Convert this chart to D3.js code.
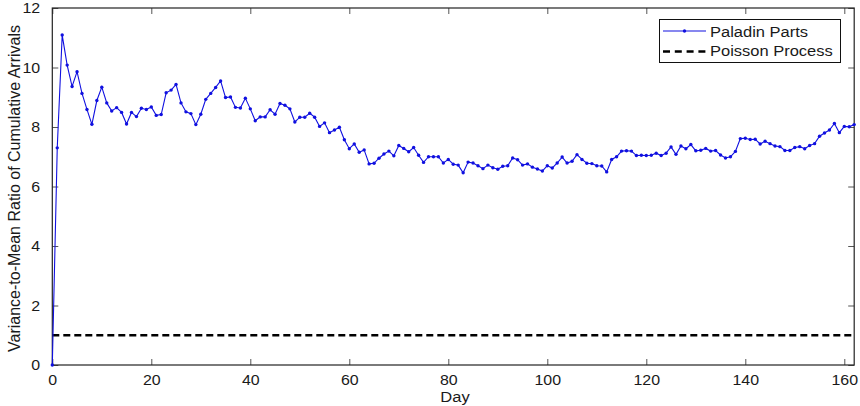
<!DOCTYPE html>
<html>
<head>
<meta charset="utf-8">
<script src="https://cdn.jsdelivr.net/npm/d3@7"></script>
<style>
  html, body { margin: 0; padding: 0; background: #fff; }
  svg text { font-family: Arial, "Liberation Sans", sans-serif; fill: #1a1a1a; }
</style>
</head>
<body>
<svg id="chart" width="860" height="406"></svg>
<script>
// Variance-to-mean ratio per day (day 0 .. 162)
const days = d3.range(0, 163);
const paladinParts = [
  0.00, 7.30, 11.09, 10.08, 9.36, 9.86, 9.13, 8.59, 8.09, 8.89,
  9.34, 8.81, 8.54, 8.65, 8.49, 8.10, 8.49, 8.35, 8.63, 8.59,
  8.67, 8.39, 8.42, 9.15, 9.24, 9.43, 8.81, 8.51, 8.45, 8.08,
  8.43, 8.93, 9.13, 9.33, 9.55, 8.99, 9.01, 8.66, 8.64, 8.97,
  8.61, 8.21, 8.34, 8.34, 8.58, 8.43, 8.79, 8.73, 8.61, 8.17,
  8.33, 8.33, 8.46, 8.33, 8.02, 8.14, 7.81, 7.90, 7.99, 7.57,
  7.27, 7.43, 7.15, 7.23, 6.76, 6.78, 6.95, 7.09, 7.19, 7.03,
  7.38, 7.28, 7.17, 7.31, 7.05, 6.81, 7.00, 7.00, 7.00, 6.79,
  6.91, 6.75, 6.72, 6.46, 6.82, 6.79, 6.70, 6.60, 6.72, 6.63,
  6.58, 6.68, 6.70, 6.96, 6.90, 6.72, 6.76, 6.65, 6.59, 6.52,
  6.70, 6.62, 6.79, 6.99, 6.79, 6.85, 7.07, 6.91, 6.78, 6.77,
  6.70, 6.69, 6.49, 6.91, 7.00, 7.19, 7.20, 7.19, 7.04, 7.05,
  7.04, 7.05, 7.12, 7.04, 7.12, 7.33, 7.08, 7.36, 7.27, 7.41,
  7.20, 7.22, 7.28, 7.19, 7.21, 7.06, 6.96, 7.00, 7.18, 7.61,
  7.62, 7.58, 7.59, 7.43, 7.52, 7.44, 7.36, 7.34, 7.21, 7.21,
  7.31, 7.34, 7.27, 7.38, 7.44, 7.69, 7.80, 7.90, 8.12, 7.81,
  8.02, 8.01, 8.08
];
const poissonValue = 1;
const xTicks = [0, 20, 40, 60, 80, 100, 120, 140, 160];
const yTicks = [0, 2, 4, 6, 8, 10, 12];
const xDomain = [0, 162];
const yDomain = [0, 12];
const legendLabels = ["Paladin Parts", "Poisson Process"];
const xLabel = "Day";
const yLabel = "Variance-to-Mean Ratio of Cumulative Arrivals";

const svg = d3.select("#chart");
const L = 52.3, R = 854.2, T = 8, B = 365;
const x = d3.scaleLinear().domain(xDomain).range([L, R]);
const y = d3.scaleLinear().domain(yDomain).range([B, T]);
const blue = "#1010e0";
const SX = 1.1;

// axes (MATLAB style box with inward ticks)
const tickLen = 6;
function styleAxis(g) {
  g.select(".domain").remove();
  g.selectAll(".tick line").attr("stroke", "#555").attr("stroke-width", 1);
  g.selectAll(".tick text").attr("font-size", 14.5).attr("fill", "#1a1a1a");
}
const gx = svg.append("g").attr("transform", `translate(0,${B})`)
  .call(d3.axisBottom(x).tickValues(xTicks).tickSizeInner(-tickLen).tickSizeOuter(0).tickPadding(10));
styleAxis(gx);
gx.selectAll(".tick text").attr("dy", "0.71em").attr("transform", `scale(${SX},1)`);

const gxTop = svg.append("g").attr("transform", `translate(0,${T})`)
  .call(d3.axisTop(x).tickValues(xTicks).tickSizeInner(-tickLen).tickSizeOuter(0).tickFormat(""));
styleAxis(gxTop);

const gy = svg.append("g").attr("transform", `translate(${L},0)`)
  .call(d3.axisLeft(y).tickValues(yTicks).tickSizeInner(-tickLen).tickSizeOuter(0).tickPadding(11));
styleAxis(gy);
gy.selectAll(".tick text").attr("transform", `scale(${SX},1)`);

const gyR = svg.append("g").attr("transform", `translate(${R},0)`)
  .call(d3.axisRight(y).tickValues(yTicks).tickSizeInner(-tickLen).tickSizeOuter(0).tickFormat(""));
styleAxis(gyR);

// box
svg.append("rect").attr("x", L).attr("y", T).attr("width", R - L).attr("height", B - T)
  .attr("fill", "none").attr("stroke", "#222").attr("stroke-width", 1.2);

// Poisson dashed line
svg.append("line")
  .attr("x1", x(xDomain[0])).attr("x2", x(xDomain[1]))
  .attr("y1", y(poissonValue)).attr("y2", y(poissonValue))
  .attr("stroke", "#000").attr("stroke-width", 2.4).attr("stroke-dasharray", "7,4");

// data line
const data = days.map((d, i) => ({ d, v: paladinParts[i] }));
svg.append("path").datum(data)
  .attr("fill", "none").attr("stroke", blue).attr("stroke-width", 1.1)
  .attr("d", d3.line().x(p => x(p.d)).y(p => y(p.v)));
svg.append("g").selectAll("circle").data(data).join("circle")
  .attr("cx", p => x(p.d)).attr("cy", p => y(p.v)).attr("r", 1.7).attr("fill", blue);

// labels
svg.append("text").attr("x", 0).attr("y", 0)
  .attr("transform", `translate(455,401.5) scale(${SX},1)`)
  .attr("text-anchor", "middle").attr("font-size", 15).text(xLabel);
svg.append("text")
  .attr("transform", `translate(20,${(T + B) / 2 + 2}) rotate(-90)`)
  .attr("text-anchor", "middle").attr("font-size", 16).text(yLabel);

// legend
const lg = svg.append("g");
lg.append("rect").attr("x", 659.5).attr("y", 19.5).attr("width", 181).attr("height", 43)
  .attr("fill", "#fff").attr("stroke", "#111").attr("stroke-width", 1);
lg.append("line").attr("x1", 663).attr("x2", 706).attr("y1", 31).attr("y2", 31)
  .attr("stroke", blue).attr("stroke-width", 1.1);
lg.append("circle").attr("cx", 684.5).attr("cy", 31).attr("r", 1.7).attr("fill", blue);
lg.append("line").attr("x1", 663).attr("x2", 706).attr("y1", 51.5).attr("y2", 51.5)
  .attr("stroke", "#000").attr("stroke-width", 2.4).attr("stroke-dasharray", "7,4.8");
lg.selectAll("text.lt").data(legendLabels).join("text").attr("class", "lt")
  .attr("x", 0).attr("y", 0)
  .attr("transform", (d, i) => `translate(710,${36.5 + i * 19.5}) scale(${SX},1)`)
  .attr("font-size", 15).text(d => d);
</script>
</body>
</html>
